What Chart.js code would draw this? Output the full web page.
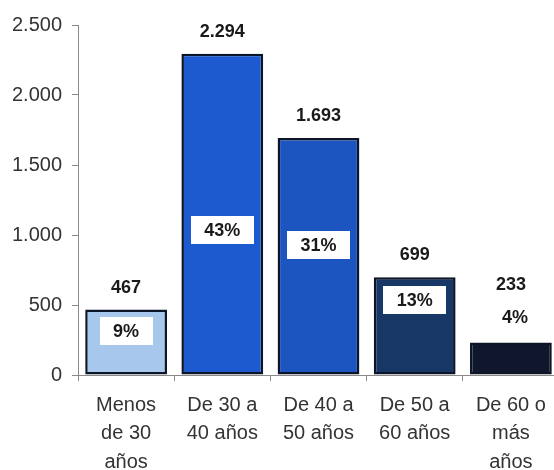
<!DOCTYPE html>
<html>
<head>
<meta charset="utf-8">
<script src="https://cdn.jsdelivr.net/npm/chart.js@4/dist/chart.umd.min.js"></script>
<style>
  html, body { margin: 0; padding: 0; background: #fff; overflow: hidden; }
  #wrap { width: 560px; height: 470px; }
</style>
</head>
<body>
<div id="wrap"><canvas id="ageChart" width="560" height="470"></canvas></div>
<script>
// Edades de los trabajadores
const categories = [
  ["Menos", "de 30", "años"],
  ["De 30 a", "40 años"],
  ["De 40 a", "50 años"],
  ["De 50 a", "60 años"],
  ["De 60 o", "más", "años"]
];
const counts   = [467, 2294, 1693, 699, 233];
const percents = [9, 43, 31, 13, 4];
const yTicks   = [0, 500, 1000, 1500, 2000, 2500];

const barColors = ["#a7c7ed", "#1d59cf", "#1c55c0", "#173866", "#10172c"];
const FONT = "'Liberation Sans', Arial, sans-serif";

function fmt(n) {
  return String(n).replace(/\B(?=(\d{3})+(?!\d))/g, ".");
}

// labels: value above the bar, percentage in a white box inside (or above, when the bar is too short)
const labelPlugin = {
  id: "barLabels",
  afterDatasetsDraw(chart) {
    const ctx = chart.ctx;
    const meta = chart.getDatasetMeta(0);
    const boxed = [true, true, true, true, false];
    const pctOffset = [21, 176, 107, 23, -24];  // px from bar top
    ctx.save();
    ctx.font = "bold 18px " + FONT;
    ctx.textAlign = "center";
    ctx.textBaseline = "middle";
    meta.data.forEach((bar, i) => {
      const x = bar.x, top = bar.y;
      const pctText = percents[i] + "%";
      const py = top + pctOffset[i];
      if (boxed[i]) {
        const w = ctx.measureText(pctText).width + 27;
        ctx.fillStyle = "#fff";
        ctx.fillRect(Math.round(x - w / 2), Math.round(py - 14), Math.round(w), 28);
        ctx.fillStyle = "#1a1a1a";
        ctx.fillText(pctText, x, py + 1);
        ctx.fillText(fmt(counts[i]), x, top - 22);
      } else {
        ctx.fillStyle = "#1a1a1a";
        ctx.fillText(pctText, x + 4, py);
        ctx.fillText(fmt(counts[i]), x, py - 33);
      }
    });
    ctx.restore();
  }
};

new Chart(document.getElementById("ageChart"), {
  type: "bar",
  data: {
    labels: categories,
    datasets: [{
      data: counts,
      backgroundColor: barColors,
      borderColor: "#0c1428",
      borderWidth: 2.5,
      borderSkipped: false,
      barPercentage: 0.85,
      categoryPercentage: 1
    }]
  },
  options: {
    responsive: false,
    animation: false,
    layout: { padding: { top: 25, left: 0, right: 1, bottom: 0 } },
    plugins: { legend: { display: false }, tooltip: { enabled: false } },
    scales: {
      x: {
        grid: { drawOnChartArea: false, drawTicks: true, tickLength: 6, color: "#888", offset: true },
        border: { display: true, color: "#888", width: 1 },
        ticks: { color: "#333", padding: 10, maxRotation: 0, autoSkip: false,
                 font: { family: FONT, size: 20, lineHeight: 1.42 } },
        afterFit(scale) { scale.height = 95; }
      },
      y: {
        min: 0, max: 2500,
        afterBuildTicks(scale) { scale.ticks = yTicks.map(v => ({ value: v })); },
        grid: { drawOnChartArea: false, drawTicks: true, tickLength: 6, color: "#888" },
        border: { display: true, color: "#888", width: 1 },
        ticks: { color: "#333", padding: 10, font: { family: FONT, size: 20 },
                 callback: v => fmt(v) },
        afterFit(scale) { scale.width = 78; }
      }
    }
  },
  plugins: [labelPlugin]
});
</script>
</body>
</html>
